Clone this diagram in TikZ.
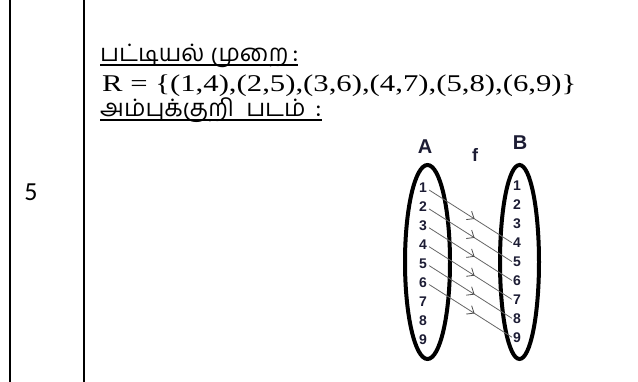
\documentclass[tikz,border=0pt]{standalone}
\usepackage{fontspec}
\setmainfont{Liberation Serif}
\newfontfamily\tamilfont[Script=Tamil]{Hind Madurai}
\newfontfamily\calfont{Carlito}
\newfontfamily\arialfont{Liberation Sans}
\usetikzlibrary{decorations.markings,arrows.meta,shapes.geometric}
\definecolor{digitcol}{HTML}{1C1C34}
\begin{document}
\begin{tikzpicture}[x=1pt,y=-1pt,
  rule/.style={line width=2.2pt},
  setring/.style={draw,ellipse,line width=4pt},
  lab/.style={font=\arialfont\bfseries\fontsize{20}{20}\selectfont,inner sep=0pt,text=digitcol},
  num/.style={font=\arialfont\bfseries\fontsize{14}{14}\selectfont,inner sep=0pt,text=digitcol},
  maparrow/.style={draw=black!60,line width=0.8pt,postaction={decorate},
    decoration={markings,mark=at position 0.55 with {\arrow[black!70]{Straight Barb[length=6pt,width=10pt,line width=0.8pt]}}}},
  tam/.style={anchor=base west,inner sep=0pt,font=\tamilfont\fontsize{24}{24}\selectfont},
  ul/.style={line width=1.8pt}]
\useasboundingbox (0,0) rectangle (638,382);
\draw[rule] (10,0) coordinate (l1) -- (10,382) coordinate (l2);
\draw[rule] (84,0) coordinate (m1) -- (84,382) coordinate (m2);
\node[font=\calfont\fontsize{26}{26}\selectfont,inner sep=0pt] (five) at (31,192) {5};
\node[tam] (t1) at (100,62) {பட்டியல்\hspace{6pt}முறை\hspace{4pt}:};
\draw[ul] (t1.base west)++(0,3) coordinate (u1a) -- ([yshift=-3pt]t1.base east) coordinate (u1b);
\node[anchor=base west,inner sep=0pt,font=\fontsize{24}{24}\selectfont] (rel) at (102,92) {\scalebox{1.28}[1]{R = \{(1,4),(2,5),(3,6),(4,7),(5,8),(6,9)\}}};
\node[tam] (t2) at (100,117) {அம்புக்குறி\hspace{12pt}படம்\hspace{10pt}:};
\draw[ul] (t2.base west)++(0,3) coordinate (u2a) -- ([yshift=-3pt]t2.base east) coordinate (u2b);
\node[setring,minimum width=45pt,minimum height=194pt,inner sep=0pt] (A) at (427.5,262) {};
\node[setring,minimum width=39pt,minimum height=194pt,inner sep=0pt] (B) at (519.5,262) {};
\node[lab] (Alab) at (425,147) {A};
\node[lab] (Blab) at (520,143) {B};
\node[lab,font=\arialfont\bfseries\fontsize{18}{18}\selectfont] (flab) at (475,155) {f};
\foreach \i in {1,...,9}{
  \node[num] (a\i) at (423,{188+(\i-1)*18.9}) {\i};
  \node[num] (b\i) at (517,{186+(\i-1)*18.9}) {\i};
}
\foreach \i [evaluate=\i as \j using int(\i+3)] in {1,...,6}{
  \draw[maparrow] ([xshift=2pt,yshift=-2pt]a\i.east) -- ([xshift=-1pt]b\j.west);
}
\end{tikzpicture}
\end{document}
